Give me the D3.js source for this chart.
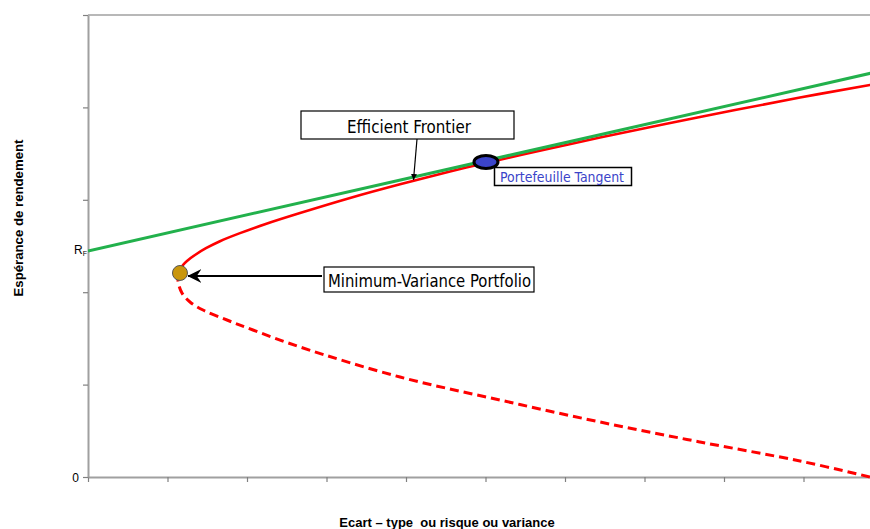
<!DOCTYPE html>
<html>
<head>
<meta charset="utf-8">
<script src="https://cdn.jsdelivr.net/npm/d3@7"></script>
<style>
  html, body { margin: 0; padding: 0; background: #fff; }
  svg { display: block; }
</style>
</head>
<body>
<svg id="chart" width="870" height="529"></svg>
<script>
// ---- data (sigma = écart-type, mu = espérance de rendement) ----
const xTicks = [0, 1, 2, 3, 4, 5, 6, 7, 8, 9, 10];
const yTicks = [0, 1, 2, 3, 4, 5];
const yTickLabels = ["0", "R_F"];
const riskFree = 2.446;

const frontierSigma = [1.157, 1.170, 1.195, 1.245, 1.346, 1.484, 1.660, 1.912, 2.226, 2.667, 3.296, 3.925, 4.553, 5.006, 5.811, 6.440, 7.698, 8.956, 9.836, 10.0];
const frontierMu    = [2.208, 2.257, 2.294, 2.338, 2.403, 2.476, 2.552, 2.639, 2.736, 2.857, 3.020, 3.168, 3.306, 3.399, 3.555, 3.674, 3.896, 4.107, 4.242, 4.267];

const lowerSigma = [1.157, 1.132, 1.182, 1.283, 1.447, 1.748, 2.075, 2.667, 3.925, 5.182, 6.440, 7.698, 8.956, 9.836];
const lowerMu    = [2.208, 2.132, 1.991, 1.894, 1.807, 1.699, 1.591, 1.407, 1.082, 0.833, 0.595, 0.379, 0.173, 0.000];

const cmlSigma = [0, 10];
const cmlMu    = [2.446, 4.400];

const tangentPoint = { sigma: 5.006, mu: 3.409 };
const minVarPoint  = { sigma: 1.157, mu: 2.208 };

const labels = {
  frontier: "Efficient Frontier",
  tangent: "Portefeuille Tangent",
  minVar: "Minimum-Variance Portfolio",
  yTitle: "Espérance de rendement",
  xTitle: "Ecart – type  ou risque ou variance"
};

// ---- layout ----
(function () {
const svg = d3.select("#chart");
const mLeft = 88, mTop = 15, mBottom = 477, mRight = 883;
const x = d3.scaleLinear().domain([0, 10]).range([mLeft, mRight]);
const y = d3.scaleLinear().domain([0, 5]).range([mBottom, mTop]);

const defs = svg.append("defs");
defs.append("clipPath").attr("id", "plotclip")
  .append("rect").attr("x", mLeft).attr("y", mTop - 2).attr("width", 870 - mLeft).attr("height", mBottom - mTop + 4);

const axisColor = "#a0a0a0";

// top border
svg.append("line").attr("x1", mLeft).attr("x2", 870).attr("y1", y(5)).attr("y2", y(5))
  .attr("stroke", axisColor).attr("stroke-width", 1.5);

// axes
const gx = svg.append("g").attr("transform", `translate(0,${mBottom})`)
  .call(d3.axisBottom(x).tickValues(xTicks).tickFormat("").tickSize(5).tickSizeOuter(0));
const gy = svg.append("g").attr("transform", `translate(${mLeft},0)`)
  .call(d3.axisLeft(y).tickValues(yTicks).tickFormat("").tickSize(5).tickSizeOuter(0));
[gx, gy].forEach(g => {
  g.select(".domain").attr("stroke", axisColor).attr("stroke-width", 2);
  g.selectAll(".tick line").attr("stroke", "#808080").attr("stroke-width", 1.2);
});

// y labels
svg.append("text").attr("x", 79).attr("y", y(0) + 4.5).attr("text-anchor", "end")
  .attr("font-family", "Liberation Sans, Arial, sans-serif").attr("font-size", 12).text(yTickLabels[0]);
const rf = svg.append("text").attr("x", 74).attr("y", y(riskFree) + 3)
  .attr("font-family", "Liberation Sans, Arial, sans-serif").attr("font-size", 12);
rf.append("tspan").text(yTickLabels[1].split("_")[0]);
rf.append("tspan").attr("font-size", 7).attr("dy", 2).text(yTickLabels[1].split("_")[1]);

// axis titles
svg.append("text").attr("transform", `translate(22.5,218) rotate(-90)`).attr("text-anchor", "middle")
  .attr("font-family", "Liberation Sans, Arial, sans-serif").attr("font-weight", "bold").attr("font-size", 13.2)
  .text(labels.yTitle);
svg.append("text").attr("x", 447).attr("y", 527).attr("text-anchor", "middle")
  .attr("font-family", "Liberation Sans, Arial, sans-serif").attr("font-weight", "bold").attr("font-size", 13)
  .style("white-space", "pre").attr("xml:space", "preserve")
  .text(labels.xTitle);

// curves
const plot = svg.append("g").attr("clip-path", "url(#plotclip)");
const line = d3.line().x(d => x(d[0])).y(d => y(d[1])).curve(d3.curveCatmullRom.alpha(0.5));

plot.append("path").datum(lowerSigma.map((s, i) => [s, lowerMu[i]]))
  .attr("d", line).attr("fill", "none").attr("stroke", "#ff0000").attr("stroke-width", 3)
  .attr("stroke-dasharray", "9,5");
plot.append("path").datum(frontierSigma.map((s, i) => [s, frontierMu[i]]))
  .attr("d", line).attr("fill", "none").attr("stroke", "#ff0000").attr("stroke-width", 2.6);
plot.append("path").datum(cmlSigma.map((s, i) => [s, cmlMu[i]]))
  .attr("d", d3.line().x(d => x(d[0])).y(d => y(d[1]))).attr("fill", "none")
  .attr("stroke", "#22b14c").attr("stroke-width", 3);

// markers
svg.append("ellipse").attr("cx", x(tangentPoint.sigma)).attr("cy", y(tangentPoint.mu))
  .attr("rx", 12).attr("ry", 6.5).attr("fill", "#3b44c9").attr("stroke", "#000").attr("stroke-width", 3);
svg.append("circle").attr("cx", x(minVarPoint.sigma)).attr("cy", y(minVarPoint.mu))
  .attr("r", 7.5).attr("fill", "#c9960c").attr("stroke", "#555").attr("stroke-width", 1);

// arrow markers
defs.append("marker").attr("id", "arrSmall").attr("viewBox", "0 0 10 10").attr("refX", 10).attr("refY", 5)
  .attr("markerWidth", 6).attr("markerHeight", 6).attr("markerUnits", "userSpaceOnUse").attr("orient", "auto")
  .append("path").attr("d", "M0,0 L10,5 L0,10 z").attr("fill", "#000");
defs.append("marker").attr("id", "arrBig").attr("viewBox", "0 0 12 12").attr("refX", 11.5).attr("refY", 6)
  .attr("markerWidth", 14).attr("markerHeight", 14).attr("markerUnits", "userSpaceOnUse").attr("orient", "auto")
  .append("path").attr("d", "M0,0 L12,6 L0,12 L4,6 z").attr("fill", "#000");

const annFont = "DejaVu Sans Condensed, DejaVu Sans, sans-serif";

// Efficient Frontier label
svg.append("line").attr("x1", 417).attr("y1", 139).attr("x2", 413.5).attr("y2", 180)
  .attr("stroke", "#000").attr("stroke-width", 1.2).attr("marker-end", "url(#arrSmall)");
svg.append("rect").attr("x", 301).attr("y", 111).attr("width", 213).attr("height", 28)
  .attr("fill", "#fff").attr("stroke", "#000").attr("stroke-width", 1.2);
svg.append("text").attr("x", 347).attr("y", 132.5).attr("font-family", annFont).attr("font-size", 18)
  .attr("textLength", 124).attr("lengthAdjust", "spacingAndGlyphs").text(labels.frontier);

// Tangent label
svg.append("rect").attr("x", 494.5).attr("y", 167.5).attr("width", 137).attr("height", 18)
  .attr("fill", "#fff").attr("stroke", "#000").attr("stroke-width", 1.5);
svg.append("text").attr("x", 500).attr("y", 181.5).attr("font-family", annFont).attr("font-size", 14.5)
  .attr("fill", "#3b44c9").attr("textLength", 124).attr("lengthAdjust", "spacingAndGlyphs").text(labels.tangent);

// Min variance label + arrow
svg.append("line").attr("x1", 322).attr("y1", 276).attr("x2", 188).attr("y2", 276)
  .attr("stroke", "#000").attr("stroke-width", 2).attr("marker-end", "url(#arrBig)");
svg.append("rect").attr("x", 324).attr("y", 267).attr("width", 210).attr("height", 25)
  .attr("fill", "#fff").attr("stroke", "#000").attr("stroke-width", 1.2);
svg.append("text").attr("x", 328).attr("y", 286.5).attr("font-family", annFont).attr("font-size", 18)
  .attr("textLength", 203).attr("lengthAdjust", "spacingAndGlyphs").text(labels.minVar);
})();
</script>
</body>
</html>
